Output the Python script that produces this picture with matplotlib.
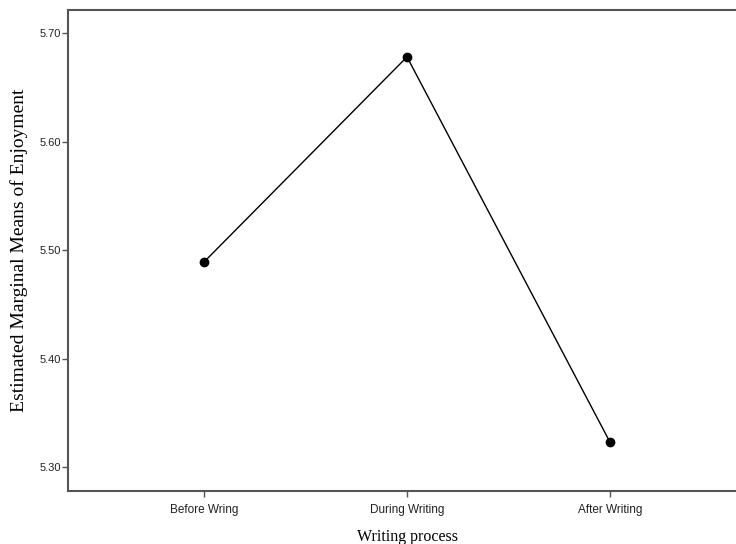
import numpy as np
import matplotlib.pyplot as plt

categories = ['Before Wring', 'During Writing', 'After Writing']
means = [5.489, 5.678, 5.323]
yticks = [5.30, 5.40, 5.50, 5.60, 5.70]

fig = plt.figure(figsize=(7.36, 5.44), dpi=100)
ax = fig.add_axes([68/736, 1-491/544, 678/736, 481/544])

x = np.arange(len(categories))
ax.plot(x, means, color='black', lw=1.0, marker='o', ms=6)

ax.set_xlim(-0.67, 2.67)
ax.set_ylim(5.278, 5.7212)
ax.set_xticks(x)
ax.set_xticklabels(categories, fontsize=8.5, family='Liberation Sans')
ax.set_yticks(yticks)
ax.set_yticklabels(['%.2f' % v for v in yticks], fontsize=8, family='Liberation Sans')

for s in ax.spines.values():
    s.set_color('#555555')
    s.set_linewidth(1.5)
ax.tick_params(direction='out', length=4, width=1, color='#555555', labelcolor='#222222')
ax.tick_params(axis='y', pad=1)
ax.tick_params(axis='x', pad=5)

ax.set_xlabel('Writing process', family='Liberation Serif', fontsize=11.5, labelpad=10)
ax.set_ylabel('Estimated Marginal Means of Enjoyment', family='Liberation Serif', fontsize=14, labelpad=8)

fig.savefig('out.png', dpi=100)
